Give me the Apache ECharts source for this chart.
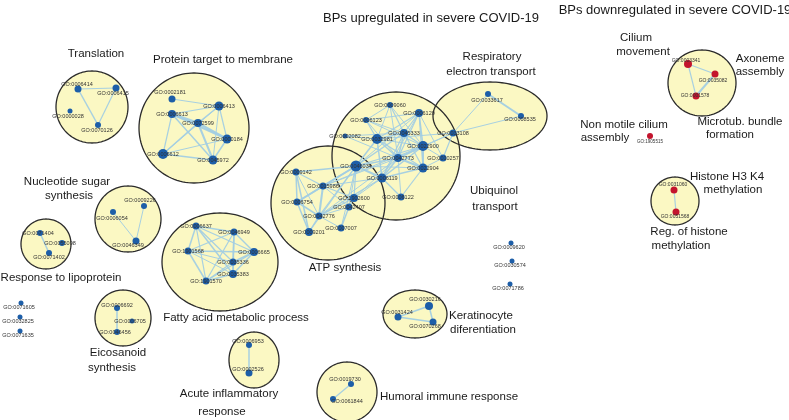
<!DOCTYPE html>
<html><head><meta charset="utf-8">
<script src="https://cdn.jsdelivr.net/npm/echarts@6/dist/echarts.min.js"></script>
<style>html,body{margin:0;padding:0;background:#fff}#c{width:789px;height:420px}</style>
</head><body><div id="c"></div><script>
// Chart titles: [text, centerX, centerY]
const titles = [
  ['BPs upregulated in severe COVID-19', 431, 18],
  ['BPs downregulated in severe COVID-19', 675, 10]
];
// Cluster outlines: [cx, cy, rx, ry]
const clusters = [
  [92, 107, 36, 36],    // Translation
  [194, 128, 55, 55],   // Protein target to membrane
  [490, 116, 57, 34],   // Respiratory electron transport
  [396, 156, 64, 64],   // Ubiquinol transport
  [328, 203, 57, 57],   // ATP synthesis
  [128, 219, 33, 33],   // Nucleotide sugar synthesis
  [46, 244, 25, 25],    // lipoprotein cluster
  [220, 262, 58, 49],   // Fatty acid metabolic process
  [123, 318, 28, 28],   // Eicosanoid synthesis
  [254, 360, 25, 28],   // Acute inflammatory response
  [415, 314, 32, 24],   // Keratinocyte
  [347, 392, 30, 30],   // Humoral
  [702, 83, 34, 33],    // Axoneme
  [675, 201, 24, 24]    // Histone
];
// Cluster annotation lines: [text, centerX, centerY]
const clusterLabels = [
  ['Translation', 96, 54],
  ['Protein target to membrane', 223, 60],
  ['Respiratory', 492, 57],
  ['electron transport', 491, 72],
  ['Nucleotide sugar', 67, 182],
  ['synthesis', 69, 196],
  ['Ubiquinol', 494, 191],
  ['transport', 495, 207],
  ['ATP synthesis', 345, 268],
  ['Response to lipoprotein', 61, 278],
  ['Fatty acid metabolic process', 236, 318],
  ['Keratinocyte', 481, 316],
  ['diferentiation', 483, 330],
  ['Eicosanoid', 118, 353],
  ['synthesis', 112, 368],
  ['Acute inflammatory', 229, 394],
  ['response', 222, 412],
  ['Humoral immune response', 449, 397],
  ['Cilium', 636, 38],
  ['movement', 643, 52],
  ['Axoneme', 760, 59],
  ['assembly', 760, 72],
  ['Non motile cilium', 624, 125],
  ['assembly', 605, 138],
  ['Microtub. bundle', 740, 122],
  ['formation', 730, 135],
  ['Histone H3 K4', 727, 177],
  ['methylation', 733, 190],
  ['Reg. of histone', 689, 232],
  ['methylation', 681, 246]
];
// Upregulated GO nodes: [id, x, y, size]
const upNodes = [
  ['GO:0006414', 78, 89, 7], ['GO:0006415', 116, 88, 7], ['GO:0000028', 70, 111, 5], ['GO:0070126', 98, 125, 6],
  ['GO:0002181', 172, 99, 7], ['GO:0006413', 219, 106, 9], ['GO:0006613', 172, 114, 8], ['GO:0072599', 198, 123, 8],
  ['GO:0000184', 227, 139, 9], ['GO:0006612', 163, 154, 10], ['GO:0045972', 213, 160, 9],
  ['GO:0009060', 390, 105, 6], ['GO:0006123', 366, 120, 6], ['GO:0006120', 419, 113, 8], ['GO:0002082', 345, 136, 5],
  ['GO:0032981', 377, 139, 10], ['GO:0045333', 404, 133, 8], ['GO:0033108', 453, 133, 7], ['GO:0022900', 423, 146, 10],
  ['GO:0042773', 398, 158, 8], ['GO:0010257', 443, 158, 7], ['GO:0022904', 423, 168, 9], ['GO:0046034', 356, 166, 11],
  ['GO:0006119', 382, 178, 9], ['GO:0006122', 401, 197, 7],
  ['GO:0009142', 296, 172, 7], ['GO:0015986', 323, 186, 7], ['GO:0006754', 297, 202, 7], ['GO:1902600', 354, 198, 8],
  ['GO:0042407', 349, 207, 7], ['GO:0042776', 319, 216, 7], ['GO:0009201', 309, 232, 8], ['GO:0007007', 341, 228, 7],
  ['GO:0033617', 488, 94, 6], ['GO:0008535', 521, 116, 6],
  ['GO:0006054', 113, 212, 6], ['GO:0009226', 144, 206, 6], ['GO:0046349', 136, 241, 7],
  ['GO:0071404', 40, 233, 6], ['GO:0055098', 62, 243, 6], ['GO:0071402', 49, 253, 6],
  ['GO:0071605', 21, 303, 5], ['GO:0032825', 20, 317, 5], ['GO:0071635', 20, 331, 5],
  ['GO:0006637', 196, 226, 7], ['GO:0046949', 234, 232, 7], ['GO:1901568', 188, 251, 7], ['GO:0006665', 254, 252, 8],
  ['GO:0035336', 233, 262, 7], ['GO:0035383', 233, 274, 8], ['GO:1901570', 206, 281, 7],
  ['GO:0006692', 117, 308, 6], ['GO:0006705', 132, 321, 5], ['GO:0046456', 117, 332, 6],
  ['GO:0006953', 249, 345, 6], ['GO:0002526', 249, 373, 7],
  ['GO:0009620', 511, 243, 5], ['GO:0030574', 512, 261, 5], ['GO:0071786', 510, 284, 5],
  ['GO:0030216', 429, 306, 8], ['GO:0031424', 398, 317, 7], ['GO:0070268', 433, 322, 7],
  ['GO:0019730', 351, 384, 6], ['GO:0061844', 333, 399, 6]
];
// Downregulated GO nodes: [id, x, y, size]
const downNodes = [
  ['GO:0003341', 688, 64, 8], ['GO:0035082', 715, 74, 7], ['GO:0001578', 696, 96, 7],
  ['GO:1905515', 650, 136, 6],
  ['GO:0031060', 674, 190, 7], ['GO:0051568', 676, 212, 7]
];
// Similarity edges: [source, target, weight]
const links = [
  ['GO:0006414','GO:0006415',1.2],['GO:0006414','GO:0070126',1.5],['GO:0006415','GO:0070126',1.2],
  ['GO:0002181','GO:0006413',1],['GO:0006613','GO:0006413',1.2],['GO:0006613','GO:0072599',2.5],['GO:0006613','GO:0000184',2],
  ['GO:0006613','GO:0006612',1.2],['GO:0006613','GO:0045972',1.5],['GO:0006413','GO:0072599',1.2],['GO:0006413','GO:0000184',1.2],
  ['GO:0006413','GO:0006612',1],['GO:0006413','GO:0045972',1],['GO:0072599','GO:0000184',2],['GO:0072599','GO:0006612',1.5],
  ['GO:0072599','GO:0045972',2],['GO:0000184','GO:0006612',1],['GO:0000184','GO:0045972',1.5],['GO:0006612','GO:0045972',1.5],
  ['GO:0009060','GO:0006123',1],['GO:0009060','GO:0032981',1],['GO:0009060','GO:0045333',1.2],['GO:0009060','GO:0022900',1],
  ['GO:0009060','GO:0042773',1],['GO:0006123','GO:0032981',1.2],['GO:0006123','GO:0045333',1],['GO:0006123','GO:0022900',1],
  ['GO:0006123','GO:0042773',1],['GO:0006123','GO:0006120',1],['GO:0006120','GO:0032981',1.2],['GO:0006120','GO:0045333',1.2],
  ['GO:0006120','GO:0022900',1.5],['GO:0006120','GO:0042773',1.2],['GO:0006120','GO:0010257',1],['GO:0006120','GO:0022904',1.2],
  ['GO:0006120','GO:0006119',1],['GO:0006120','GO:0046034',1],['GO:0002082','GO:0032981',1],['GO:0002082','GO:0045333',1],
  ['GO:0002082','GO:0042773',1],['GO:0032981','GO:0045333',1.5],['GO:0032981','GO:0022900',1.2],['GO:0032981','GO:0042773',1.5],
  ['GO:0032981','GO:0022904',1.2],['GO:0032981','GO:0046034',1.5],['GO:0032981','GO:0006119',1.5],['GO:0045333','GO:0022900',1.5],
  ['GO:0045333','GO:0042773',1.5],['GO:0045333','GO:0022904',1.2],['GO:0045333','GO:0006119',1.2],['GO:0045333','GO:0046034',1.5],
  ['GO:0033108','GO:0022900',1],['GO:0033108','GO:0010257',1.2],['GO:0033108','GO:0033617',1],['GO:0033108','GO:0008535',1],
  ['GO:0033108','GO:0042773',1],['GO:0033108','GO:0032981',1],['GO:0033617','GO:0008535',2],
  ['GO:0022900','GO:0042773',2],['GO:0022900','GO:0010257',1],['GO:0022900','GO:0022904',2],['GO:0022900','GO:0006119',1.5],
  ['GO:0022900','GO:0046034',1.2],['GO:0042773','GO:0022904',2],['GO:0042773','GO:0006119',1.5],['GO:0042773','GO:0046034',1.5],
  ['GO:0010257','GO:0022904',1],['GO:0022904','GO:0006119',1.5],['GO:0022904','GO:0046034',1.2],['GO:0022904','GO:0006122',1.2],
  ['GO:0006119','GO:0046034',2],['GO:0006119','GO:0006122',1.2],['GO:0042773','GO:0006122',1],
  ['GO:0046034','GO:0015986',1.5],['GO:0046034','GO:0009142',1.5],['GO:0046034','GO:1902600',1.2],['GO:0046034','GO:0042407',1],
  ['GO:0046034','GO:0042776',1.2],['GO:0046034','GO:0006754',1.5],['GO:0046034','GO:0009201',1.2],['GO:0046034','GO:0007007',1],
  ['GO:0006119','GO:0015986',1.2],['GO:0006119','GO:1902600',1],['GO:0006119','GO:0042776',1.2],
  ['GO:0009142','GO:0015986',1.2],['GO:0009142','GO:0006754',1.5],['GO:0009142','GO:0042776',1],['GO:0009142','GO:0009201',1.5],
  ['GO:0015986','GO:0006754',1.5],['GO:0015986','GO:1902600',1.2],['GO:0015986','GO:0042776',2],['GO:0015986','GO:0042407',1],
  ['GO:0006754','GO:0042776',1.5],['GO:0006754','GO:0009201',1.5],['GO:1902600','GO:0042407',1],['GO:1902600','GO:0042776',1.2],
  ['GO:0042407','GO:0042776',1],['GO:0042407','GO:0007007',1.5],['GO:0042776','GO:0009201',1.2],['GO:0042776','GO:0007007',1],
  ['GO:0042773','GO:0015986',1],['GO:0042773','GO:1902600',1],['GO:0042773','GO:0042776',1],['GO:0022900','GO:0015986',1],
  ['GO:0006054','GO:0046349',1],['GO:0009226','GO:0046349',1],
  ['GO:0071404','GO:0071402',1.5],
  ['GO:0006637','GO:0046949',1.5],['GO:0006637','GO:1901568',1.5],['GO:0006637','GO:0006665',1.2],['GO:0006637','GO:0035336',1.2],
  ['GO:0006637','GO:0035383',1.5],['GO:0006637','GO:1901570',1.2],['GO:0046949','GO:1901568',1.2],['GO:0046949','GO:0006665',1.5],
  ['GO:0046949','GO:0035336',1.5],['GO:0046949','GO:0035383',1.5],['GO:0046949','GO:1901570',1.2],['GO:1901568','GO:0006665',1.5],
  ['GO:1901568','GO:0035336',1],['GO:1901568','GO:0035383',1],['GO:1901568','GO:1901570',1.5],['GO:0006665','GO:0035336',1.5],
  ['GO:0006665','GO:0035383',1.5],['GO:0006665','GO:1901570',1.2],['GO:0035336','GO:0035383',1.5],['GO:0035336','GO:1901570',1.2],
  ['GO:0035383','GO:1901570',1.5],
  ['GO:0006692','GO:0046456',1.5],
  ['GO:0006953','GO:0002526',1.5],
  ['GO:0030216','GO:0031424',1.5],['GO:0030216','GO:0070268',1.5],['GO:0031424','GO:0070268',1.5],
  ['GO:0019730','GO:0061844',1.2],
  ['GO:0003341','GO:0035082',1.2],['GO:0003341','GO:0001578',1.2],['GO:0035082','GO:0001578',2],
  ['GO:0031060','GO:0051568',1.2]
];
// Label placement tweaks relative to node (style only)
const labelOffsets = {
  'GO:0006414':[-1,-5],'GO:0006415':[-3,5],'GO:0000028':[-2,5],'GO:0070126':[-1,5],
  'GO:0002181':[-2,-7],'GO:0033617':[-1,6],'GO:0008535':[-1,3],'GO:0006122':[-3,0],
  'GO:0071404':[-2,0],'GO:0055098':[-2,0],'GO:0071402':[0,4],
  'GO:0071605':[-2,4],'GO:0032825':[-2,4],'GO:0071635':[-2,4],
  'GO:0009620':[-2,4],'GO:0030574':[-2,4],'GO:0071786':[-2,4],
  'GO:0006054':[-1,6],'GO:0009226':[-4,-6],'GO:0046349':[-8,4],
  'GO:0006692':[0,-3],'GO:0006705':[-2,0],'GO:0046456':[-2,0],
  'GO:0006953':[-1,-4],'GO:0002526':[-1,-4],
  'GO:0030216':[-4,-7],'GO:0031424':[-1,-5],'GO:0070268':[-8,4],
  'GO:0019730':[-6,-5],'GO:0061844':[14,2],
  'GO:0003341':[-2,-3],'GO:0035082':[-2,7],'GO:0001578':[-1,0],
  'GO:0031060':[-1,-5],'GO:0051568':[-1,5],'GO:1905515':[0,6]
};

const UP = '#1d5ea8', DOWN = '#c3142d';
const FONT = '"Liberation Sans", Arial, sans-serif';
function mkNode(n, color, fs) {
  const off = labelOffsets[n[0]] || [0, 0];
  return {
    name: n[0], value: [n[1], n[2]], symbolSize: n[3],
    itemStyle: { color: color },
    label: { offset: off, fontSize: fs }
  };
}
const nodes = upNodes.map(n => mkNode(n, UP, 5.5)).concat(downNodes.map(n => mkNode(n, DOWN, n[0] === 'GO:1905515' ? 4.5 : 5)));
const edges = links.map(l => ({ source: l[0], target: l[1], lineStyle: { width: l[2] } }));

function ellipsePoints(api, v) {
  const c = api.coord([v[0], v[1]]);
  const s = api.size([v[2], v[3]]);
  const rx = Math.abs(s[0]), ry = Math.abs(s[1]);
  const pts = [];
  for (let i = 0; i < 120; i++) {
    const a = i / 120 * Math.PI * 2;
    pts.push([c[0] + rx * Math.cos(a), c[1] + ry * Math.sin(a)]);
  }
  return pts;
}
function textSeries(arr, fontSize, z) {
  return {
    type: 'custom', coordinateSystem: 'cartesian2d', z: z, silent: true,
    data: arr.map(t => [t[1], t[2]]),
    renderItem: function (params, api) {
      const p = api.coord([api.value(0), api.value(1)]);
      return { type: 'text', x: p[0], y: p[1], style: {
        text: arr[params.dataIndex][0], textAlign: 'center', textVerticalAlign: 'middle',
        font: fontSize + 'px ' + FONT, fill: '#1a1a1a' } };
    }
  };
}

const chart = echarts.init(document.getElementById('c'), null, { renderer: 'canvas' });
chart.setOption({
  backgroundColor: '#ffffff',
  animation: false,
  grid: { left: 0, right: 0, top: 0, bottom: 0 },
  xAxis: { type: 'value', min: 0, max: 789, show: false },
  yAxis: { type: 'value', min: 0, max: 420, inverse: true, show: false },
  series: [
    {
      type: 'custom', coordinateSystem: 'cartesian2d', z: 1, silent: true,
      data: clusters,
      renderItem: function (params, api) {
        const v = clusters[params.dataIndex];
        return { type: 'polygon', shape: { points: ellipsePoints(api, v) }, style: { fill: '#fbf8c3', stroke: null } };
      }
    },
    {
      type: 'custom', coordinateSystem: 'cartesian2d', z: 2, silent: true,
      data: clusters,
      renderItem: function (params, api) {
        const v = clusters[params.dataIndex];
        return { type: 'polygon', shape: { points: ellipsePoints(api, v) }, style: { fill: 'none', stroke: '#2b2b2b', lineWidth: 1.3 } };
      }
    },
    {
      type: 'graph', coordinateSystem: 'cartesian2d', z: 3, silent: true,
      data: nodes, links: edges,
      symbol: 'circle',
      lineStyle: { color: '#a2cde3', opacity: 0.95, curveness: 0 },
      label: { show: true, position: 'inside', formatter: '{b}', color: '#333', fontFamily: FONT },
      emphasis: { disabled: true }
    },
    textSeries(clusterLabels, 11.5, 4),
    textSeries(titles, 13, 5)
  ]
});
</script></body></html>
